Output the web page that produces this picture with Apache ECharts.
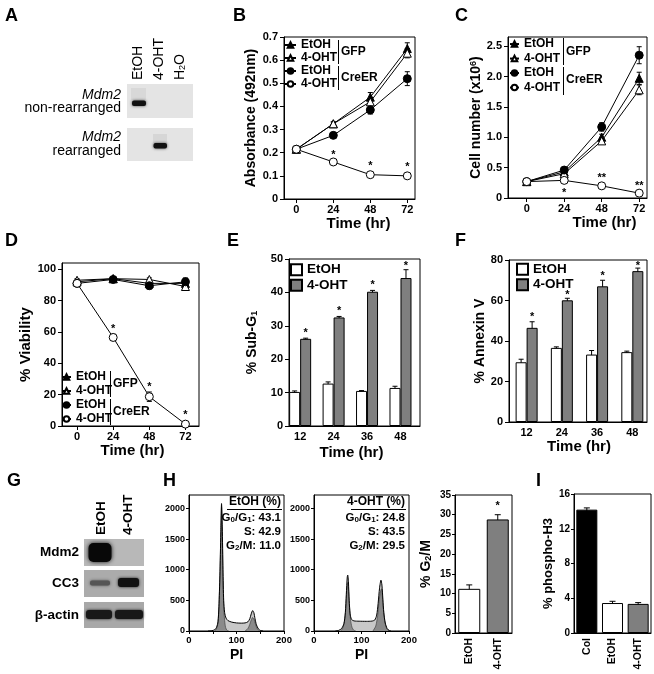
<!DOCTYPE html>
<html><head><meta charset="utf-8">
<script src="https://cdn.jsdelivr.net/npm/echarts@6/dist/echarts.min.js"></script>
<style>html,body{margin:0;padding:0;background:#fff}#c{width:654px;height:674px}</style>
</head><body><div id="c"></div>
<script>
const FONT = '"Liberation Sans", Arial, Helvetica, sans-serif';

// ================= DATA =================
const timeHr = [0, 24, 48, 72];
const timeTicks = [0, 24, 48, 72];

// B: Absorbance (492nm)
const bGfpEtOH    = [0.215, 0.325, 0.44, 0.65];
const bGfpEtOHErr = [0.005, 0.008, 0.02, 0.025];
const bGfpOHT     = [0.215, 0.325, 0.42, 0.63];
const bGfpOHTErr  = [0.005, 0.008, 0.015, 0.02];
const bCreEtOH    = [0.215, 0.275, 0.385, 0.52];
const bCreEtOHErr = [0.005, 0.008, 0.018, 0.03];
const bCreOHT     = [0.215, 0.16, 0.105, 0.1];
const bCreOHTErr  = [0.005, 0.006, 0.005, 0.005];
const bStarX = [24, 48, 72];
const bStarY = [0.204, 0.156, 0.153];
const bStarText = ['*', '*', '*'];
const bYTicks = [0, 0.1, 0.2, 0.3, 0.4, 0.5, 0.6, 0.7];

// C: Cell number (x10^6)
const cGfpEtOH    = [0.27, 0.43, 1.0, 1.97];
const cGfpEtOHErr = [0.02, 0.03, 0.05, 0.1];
const cGfpOHT     = [0.27, 0.40, 0.94, 1.78];
const cGfpOHTErr  = [0.02, 0.03, 0.04, 0.08];
const cCreEtOH    = [0.27, 0.46, 1.17, 2.35];
const cCreEtOHErr = [0.02, 0.03, 0.07, 0.14];
const cCreOHT     = [0.27, 0.29, 0.2, 0.08];
const cCreOHTErr  = [0.02, 0.04, 0.02, 0.02];
const cStarX = [24, 48, 72];
const cStarY = [0.13, 0.38, 0.25];
const cStarText = ['*', '**', '**'];
const cYTicks = [0, 0.5, 1.0, 1.5, 2.0, 2.5];

// D: % Viability
const dGfpEtOH    = [92, 94, 91, 91];
const dGfpEtOHErr = [1, 1, 1, 1.5];
const dGfpOHT     = [93, 94, 93.5, 89];
const dGfpOHTErr  = [1, 1, 1, 1];
const dCreEtOH    = [91, 93.5, 89.5, 92];
const dCreEtOHErr = [1, 1, 2, 2.5];
const dCreOHT     = [91, 56.5, 18.7, 1.2];
const dCreOHTErr  = [1, 2, 3, 0.5];
const dStarX = [24, 48, 72];
const dStarY = [64, 27, 9];
const dStarText = ['*', '*', '*'];
const dYTicks = [0, 20, 40, 60, 80, 100];

// E: % Sub-G1
const eTimes  = [12, 24, 36, 48];
const eEtOH   = [10.2, 12.7, 10.5, 11.4];
const eEtOHErr= [0.3, 0.5, 0.1, 0.5];
const eOHT    = [26.1, 32.5, 40.2, 44.3];
const eOHTErr = [0.2, 0.3, 0.4, 2.5];
const eStarY  = [28.7, 35.2, 43, 48.9];
const eYTicks = [0, 10, 20, 30, 40, 50];

// F: % Annexin V
const fTimes  = [12, 24, 36, 48];
const fEtOH   = [29.5, 36.6, 33.3, 34.5];
const fEtOHErr= [1.5, 0.5, 2, 0.5];
const fOHT    = [46.5, 60.1, 67, 74.5];
const fOHTErr = [3, 1, 3, 1.5];
const fStarY  = [53.2, 64, 73.4, 78.7];
const fYTicks = [0, 20, 40, 60, 80];

// H: PI histograms  [PI, count]
const hEtOHTotal = [[40,0],[48,5],[54,20],[58,60],[61,150],[63,400],[65,900],[67,1600],[68.5,2080],[70,1700],[71.5,1000],[73,500],[75,300],[78,210],[82,170],[90,145],[100,132],[110,128],[118,132],[124,150],[128,200],[131,280],[134,333],[136.5,300],[139,200],[142,100],[146,35],[150,10],[156,0]];
const hEtOHG1    = [[54,0],[58,40],[61,130],[63,380],[65,860],[67,1550],[68.5,2030],[70,1640],[71.5,940],[73,420],[75,170],[77,60],[80,10],[84,0]];
const hEtOHG2    = [[118,0],[124,40],[128,110],[131,180],[134,220],[137,190],[140,110],[143,45],[148,0]];
const hOHTTotal  = [[45,0],[52,10],[58,40],[63,120],[66,300],[68,600],[70,880],[71,913],[72.5,800],[74,500],[76,280],[79,190],[84,165],[95,160],[110,158],[122,162],[128,180],[132,260],[135,450],[138,700],[141,830],[143,750],[145,520],[147,300],[150,130],[154,40],[158,10],[162,0]];
const hOHTG1     = [[56,0],[60,40],[64,150],[67,380],[69,650],[71,790],[73,640],[75,380],[77,180],[80,60],[84,10],[88,0]];
const hOHTG2     = [[124,0],[130,80],[134,250],[137,480],[140,650],[142,690],[144,560],[146,360],[149,160],[153,40],[158,0]];
const histYTicks = [0, 500, 1000, 1500, 2000];
const histXLabels = [0, 100, 200];
const histXTicks = [0, 50, 100, 150, 200];

// H: % G2/M bars
const hCats = ['EtOH', '4-OHT'];
const hVals = [11.2, 28.8];
const hErr  = [1.0, 1.2];
const hStarY = [null, 32.9];

// I: % phospho-H3
const iCats = ['Col', 'EtOH', '4-OHT'];
const iVals = [14.2, 3.45, 3.35];
const iErr  = [0.2, 0.2, 0.15];

// ================= BUILD =================
const opt = {animation:false, backgroundColor:'#fff', textStyle:{fontFamily:FONT},
  grid:[], xAxis:[], yAxis:[], series:[], legend:[], graphic:{elements:[]}};
const G = opt.graphic.elements;
const BLACK = '#000', GRAY = '#7f7f7f';

const axLine = {show:true, onZero:false, lineStyle:{color:BLACK, width:1}};
function tick(vals, len){ const t={show:true, length:len||4, lineStyle:{color:BLACK, width:1}}; if(vals) t.customValues=vals; return t; }
function lab(size, vals, fmt, extra){ const l={color:BLACK, fontFamily:FONT, fontWeight:'bold', fontSize:size, margin:6}; if(vals) l.customValues=vals; if(fmt) l.formatter=fmt; return Object.assign(l, extra||{}); }
function nm(size, extra){ return Object.assign({color:BLACK, fontFamily:FONT, fontWeight:'bold', fontSize:size}, extra||{}); }
function shiftPad(s){ return s>=0 ? [0,0,0,2*s] : [0,-2*s,0,0]; }
const dec1 = v => v===0 ? '0' : v.toFixed(1);
const plain = v => String(v);

function addGrid(rect, xa, ya){
  const i = opt.grid.length;
  opt.grid.push(Object.assign({show:true, borderColor:BLACK, borderWidth:1, backgroundColor:'transparent'}, rect));
  opt.xAxis.push(Object.assign({gridIndex:i, splitLine:{show:false}, axisLine:axLine}, xa));
  opt.yAxis.push(Object.assign({gridIndex:i, splitLine:{show:false}, axisLine:axLine}, ya));
  return i;
}
function lineS(name, g, ys, symbol, filled){
  opt.series.push({type:'line', name, xAxisIndex:g, yAxisIndex:g, data: timeHr.map((t,i)=>[t, ys[i]]),
    symbol, symbolSize:8, showSymbol:true, lineStyle:{color:BLACK, width:1},
    itemStyle:{color: filled?BLACK:'#fff', borderColor:BLACK, borderWidth:1}, z:3, silent:true});
}
function errS(g, xs, ys, es, dx, cap){
  opt.series.push({type:'custom', xAxisIndex:g, yAxisIndex:g, silent:true, z:2,
    data: xs.map((x,i)=>[x, ys[i], es[i]]),
    renderItem(p, api){
      const x=api.value(0), y=api.value(1), e=api.value(2);
      const a=api.coord([x, y+e]), b=api.coord([x, y-e]);
      const cx=a[0]+dx, st={stroke:BLACK, lineWidth:1};
      return {type:'group', children:[
        {type:'line', shape:{x1:cx, y1:a[1], x2:cx, y2:b[1]}, style:st},
        {type:'line', shape:{x1:cx-cap, y1:a[1], x2:cx+cap, y2:a[1]}, style:st},
        {type:'line', shape:{x1:cx-cap, y1:b[1], x2:cx+cap, y2:b[1]}, style:st}]};
    }});
}
function starS(g, xs, ys, texts, dx, size){
  const d=[]; xs.forEach((x,i)=>{ if(ys[i]!=null) d.push([x, ys[i], i]); });
  opt.series.push({type:'custom', xAxisIndex:g, yAxisIndex:g, silent:true, z:4, data:d,
    renderItem(p, api){
      const c=api.coord([api.value(0), api.value(1)]);
      return {type:'text', x:c[0]+dx, y:c[1]+3, style:{text:texts[api.value(2)], align:'center', verticalAlign:'middle',
        textAlign:'center', textVerticalAlign:'middle', fontSize:size, fontFamily:FONT, fontWeight:'bold', fill:BLACK}};
    }});
}
function lineLegend(items, labels, left, top, iw, lh){
  opt.legend.push({show:true, orient:'vertical', left, top, padding:0, itemGap:0, itemWidth:iw, itemHeight:7,
    selectedMode:false, data:items, formatter:n=>labels[items.indexOf(n)],
    textStyle:{color:BLACK, fontFamily:FONT, fontWeight:'bold', fontSize:12, lineHeight:lh}});
}
function txt(x, y, text, o){
  o=o||{};
  const st={text, fill:BLACK, fontFamily:FONT, fontSize:o.size||12, fontWeight:o.weight||'bold', fontStyle:o.fstyle||'normal',
    align:o.align||'left', verticalAlign:o.va||'middle', textAlign:o.align||'left', textVerticalAlign:o.va||'middle'};
  if(o.rich) st.rich=o.rich;
  G.push({type:'text', x, y, rotation:o.rot||0, silent:true, z:20, style:st});
}
function rect(x, y, w, h, fill, o){
  o=o||{};
  G.push({type:'rect', silent:true, z:o.z||5, shape:{x, y, width:w, height:h, r:o.r||0},
    style:{fill, shadowBlur:o.blur||0, shadowColor:o.sc||'rgba(0,0,0,0)'}});
}
function vline(x, y1, y2){ G.push({type:'line', silent:true, z:20, shape:{x1:x, y1, x2:x, y2}, style:{stroke:BLACK, lineWidth:1}}); }
function hline(x1, x2, y){ G.push({type:'line', silent:true, z:20, shape:{x1, y1:y, x2, y2:y}, style:{stroke:BLACK, lineWidth:1}}); }

const timeName = (shift, gap, size) => ({name:'Time (hr)', nameLocation:'middle', nameGap:gap, nameTextStyle:nm(size||15, {padding:shiftPad(shift)})});

// ---------- Panel B ----------
{
  const g = addGrid({left:284, top:37, width:131, height:162},
    Object.assign({type:'value', min:-8, max:77, axisTick:tick(timeTicks), axisLabel:lab(11, timeTicks, null, {margin:5})}, timeName(9, 10)),
    {type:'value', min:0, max:0.7, axisTick:tick(bYTicks), axisLabel:lab(11, bYTicks, dec1),
     name:'Absorbance (492nm)', nameLocation:'middle', nameGap:26, nameTextStyle:nm(14)});
  errS(g, timeHr, bGfpEtOH, bGfpEtOHErr, 0, 2.5);
  errS(g, timeHr, bGfpOHT, bGfpOHTErr, 0, 2.5);
  errS(g, timeHr, bCreEtOH, bCreEtOHErr, 0, 2.5);
  errS(g, timeHr, bCreOHT, bCreOHTErr, 0, 2.5);
  lineS('B1', g, bGfpEtOH, 'triangle', true);
  lineS('B2', g, bGfpOHT, 'triangle', false);
  lineS('B3', g, bCreEtOH, 'circle', true);
  lineS('B4', g, bCreOHT, 'circle', false);
  starS(g, bStarX, bStarY, bStarText, 0, 11);
  lineLegend(['B1','B2','B3','B4'], ['EtOH','4-OHT','EtOH','4-OHT'], 284, 38.5, 11, 13);
  vline(338.5, 40, 64); txt(341, 52, 'GFP', {size:12});
  vline(338.5, 66, 90); txt(341, 78, 'CreER', {size:12});
}
// ---------- Panel C ----------
{
  const g = addGrid({left:508, top:37, width:139, height:161},
    Object.assign({type:'value', min:-12, max:77, axisTick:tick(timeTicks), axisLabel:lab(11, timeTicks, null, {margin:5})}, timeName(27, 14)),
    {type:'value', min:0, max:2.65, axisTick:tick(cYTicks), axisLabel:lab(11, cYTicks, dec1),
     name:'Cell number (x10{sup|6})', nameLocation:'middle', nameGap:18,
     nameTextStyle:nm(14, {rich:{sup:{fontSize:9, fontFamily:FONT, fontWeight:'bold', color:BLACK, verticalAlign:'top', lineHeight:14}}})});
  errS(g, timeHr, cGfpEtOH, cGfpEtOHErr, 0, 2.5);
  errS(g, timeHr, cGfpOHT, cGfpOHTErr, 0, 2.5);
  errS(g, timeHr, cCreEtOH, cCreEtOHErr, 0, 2.5);
  errS(g, timeHr, cCreOHT, cCreOHTErr, 0, 2.5);
  lineS('C1', g, cGfpEtOH, 'triangle', true);
  lineS('C2', g, cGfpOHT, 'triangle', false);
  lineS('C3', g, cCreEtOH, 'circle', true);
  lineS('C4', g, cCreOHT, 'circle', false);
  starS(g, cStarX, cStarY, cStarText, 0, 11);
  lineLegend(['C1','C2','C3','C4'], ['EtOH','4-OHT','EtOH','4-OHT'], 509, 36.8, 9, 14.5);
  vline(563.5, 38, 65); txt(566, 52, 'GFP', {size:12});
  vline(563.5, 67, 95); txt(566, 80, 'CreER', {size:12});
}
// ---------- Panel D ----------
{
  const g = addGrid({left:62, top:263, width:137, height:163},
    Object.assign({type:'value', min:-10, max:81, axisTick:tick(timeTicks), axisLabel:lab(11, timeTicks, null, {margin:5})}, timeName(2, 14)),
    {type:'value', min:0, max:104, axisTick:tick(dYTicks), axisLabel:lab(11, dYTicks),
     name:'% Viability', nameLocation:'middle', nameGap:27, nameTextStyle:nm(15)});
  errS(g, timeHr, dGfpEtOH, dGfpEtOHErr, 0, 2.5);
  errS(g, timeHr, dGfpOHT, dGfpOHTErr, 0, 2.5);
  errS(g, timeHr, dCreEtOH, dCreEtOHErr, 0, 2.5);
  errS(g, timeHr, dCreOHT, dCreOHTErr, 0, 2.5);
  lineS('D1', g, dGfpEtOH, 'triangle', true);
  lineS('D2', g, dGfpOHT, 'triangle', false);
  lineS('D3', g, dCreEtOH, 'circle', true);
  lineS('D4', g, dCreOHT, 'circle', false);
  starS(g, dStarX, dStarY, dStarText, 0, 11);
  lineLegend(['D1','D2','D3','D4'], ['EtOH','4-OHT','EtOH','4-OHT'], 61, 370, 9, 14);
  vline(110.5, 371, 397); txt(113, 384, 'GFP', {size:12});
  vline(110.5, 399, 425); txt(113, 412, 'CreER', {size:12});
}
// ---------- Panel E / F (bars) ----------
function barPanel(rect, xmin, xmax, times, a, aErr, b, bErr, starY, ymax, yTicks, yName, yGap, legendPos, tShift, tGap, nameRich, names){
  const g = addGrid(rect,
    Object.assign({type:'value', min:xmin, max:xmax, axisTick:{show:false}, axisLabel:lab(11, times, null, {margin:5})}, timeName(tShift, tGap)),
    {type:'value', min:0, max:ymax, axisTick:tick(yTicks), axisLabel:lab(11, yTicks),
     name:yName, nameLocation:'middle', nameGap:yGap, nameTextStyle:nm(14, nameRich?{rich:nameRich}:{})});
  const bw = 11;
  opt.series.push({type:'bar', name:names[0], xAxisIndex:g, yAxisIndex:g, barWidth:bw, barGap:'0%', silent:true,
    data: times.map((t,i)=>[t, a[i]]), itemStyle:{color:'#fff', borderColor:BLACK, borderWidth:1}, z:2});
  opt.series.push({type:'bar', name:names[1], xAxisIndex:g, yAxisIndex:g, barWidth:bw, barGap:'0%', silent:true,
    data: times.map((t,i)=>[t, b[i]]), itemStyle:{color:GRAY, borderColor:BLACK, borderWidth:1}, z:2});
  errS(g, times, a, aErr, -bw/2, 2.5);
  errS(g, times, b, bErr, bw/2, 2.5);
  starS(g, times, starY, times.map(()=> '*'), bw/2, 11);
  opt.legend.push({show:true, orient:'vertical', left:legendPos[0], top:legendPos[1], padding:0, itemGap:0,
    itemWidth:11, itemHeight:11, icon:'rect', selectedMode:false, data:names, formatter:n=>(n.slice(1)==='1'?'EtOH':'4-OHT'),
    textStyle:{color:BLACK, fontFamily:FONT, fontWeight:'bold', fontSize:13.5, lineHeight:15.5}});
}
barPanel({left:289, top:259, width:131, height:167}, 8, 55, eTimes, eEtOH, eEtOHErr, eOHT, eOHTErr, eStarY, 50, eYTicks,
  '% Sub-G{sub|1}', 30, [290, 262], -3, 19,
  {sub:{fontSize:9, fontFamily:FONT, fontWeight:'bold', color:BLACK, verticalAlign:'bottom', lineHeight:14}}, ['E1','E2']);
barPanel({left:509, top:260, width:138, height:162}, 6, 53, fTimes, fEtOH, fEtOHErr, fOHT, fOHTErr, fStarY, 80, fYTicks,
  '% Annexin V', 22, [516, 261.5], 1, 14, null, ['F1','F2']);

// ---------- Panel H histograms ----------
function histPanel(left, total, g1, g2){
  const g = addGrid({left, top:495, width:95, height:136},
    {type:'value', min:0, max:200, axisTick:tick(histXTicks, 3), axisLabel:lab(9.5, histXLabels, plain, {margin:4}),
     name:'PI', nameLocation:'middle', nameGap:17, nameTextStyle:nm(14)},
    {type:'value', min:0, max:2220, axisTick:tick(histYTicks, 3), axisLabel:lab(9, histYTicks, plain, {margin:4})});
  const base = {type:'line', xAxisIndex:g, yAxisIndex:g, symbol:'none', smooth:0.25, silent:true};
  opt.series.push(Object.assign({}, base, {data:total, lineStyle:{width:0}, areaStyle:{color:'#c8c8c8', opacity:1}, z:1}));
  opt.series.push(Object.assign({}, base, {data:g1, lineStyle:{color:'#444', width:0.7}, areaStyle:{color:'#8a8a8a', opacity:1}, z:2}));
  opt.series.push(Object.assign({}, base, {data:g2, lineStyle:{color:'#444', width:0.7}, areaStyle:{color:'#8a8a8a', opacity:1}, z:2}));
  opt.series.push(Object.assign({}, base, {data:total, lineStyle:{color:BLACK, width:1}, z:3}));
  return g;
}
histPanel(189, hEtOHTotal, hEtOHG1, hEtOHG2);
histPanel(314, hOHTTotal, hOHTG1, hOHTG2);
const subRich = {s:{fontSize:8, fontFamily:FONT, fontWeight:'bold', fill:BLACK, verticalAlign:'bottom', padding:[4,0,0,0]}};
function histNote(right, title, g01, s, g2m){
  txt(right, 502, title, {size:12, align:'right'});
  hline(right-54, right+1, 509.5);
  txt(right, 517.5, 'G{s|0}/G{s|1}: ' + g01, {size:11.5, align:'right', rich:subRich});
  txt(right, 531.5, 'S: ' + s, {size:11.5, align:'right'});
  txt(right, 545.5, 'G{s|2}/M: ' + g2m, {size:11.5, align:'right', rich:subRich});
}
histNote(281, 'EtOH (%)', '43.1', '42.9', '11.0');
histNote(405, '4-OHT (%)', '24.8', '43.5', '29.5');

// ---------- Panel H bars (% G2/M) ----------
{
  const g = addGrid({left:455, top:495, width:57, height:138},
    {type:'category', data:hCats, axisTick:{show:false}, axisLabel:lab(10.5, null, null, {rotate:90, margin:5})},
    {type:'value', min:0, max:35, interval:5, axisTick:tick(null, 3), axisLabel:lab(10, null, null, {margin:4}),
     name:'% G{sub|2}/M', nameLocation:'middle', nameGap:22,
     nameTextStyle:nm(14, {rich:{sub:{fontSize:9, fontFamily:FONT, fontWeight:'bold', color:BLACK, verticalAlign:'bottom', lineHeight:14}}})});
  opt.series.push({type:'bar', xAxisIndex:g, yAxisIndex:g, barWidth:22, silent:true, z:2,
    data: hVals.map((v,i)=>({value:v, itemStyle:{color:i===0?'#fff':GRAY, borderColor:BLACK, borderWidth:1}}))});
  errS(g, hCats.map((c,i)=>i), hVals, hErr, 0, 3);
  starS(g, hCats.map((c,i)=>i), hStarY, ['*','*'], 0, 11);
}
// ---------- Panel I ----------
{
  const g = addGrid({left:574, top:494, width:77, height:139},
    {type:'category', data:iCats, axisTick:{show:false}, axisLabel:lab(10.5, null, null, {rotate:90, margin:5})},
    {type:'value', min:0, max:16, interval:4, axisTick:tick(null, 3), axisLabel:lab(10, null, null, {margin:4}),
     name:'% phospho-H3', nameLocation:'middle', nameGap:12, nameTextStyle:nm(13)});
  const cols = ['#000', '#fff', GRAY];
  opt.series.push({type:'bar', xAxisIndex:g, yAxisIndex:g, barWidth:21, silent:true, z:2,
    data: iVals.map((v,i)=>({value:v, itemStyle:{color:cols[i], borderColor:BLACK, borderWidth:1}}))});
  errS(g, iCats.map((c,i)=>i), iVals, iErr, 0, 3);
}

// ---------- Panel A (PCR gel) ----------
rect(127, 84, 66, 34, '#e4e4e4');
rect(127, 128, 66, 33, '#e4e4e4');
rect(131, 88, 15, 12, 'rgba(0,0,0,0.05)', {z:6});
rect(132, 100.5, 14, 5.5, '#111', {r:2, blur:3, sc:'rgba(0,0,0,0.7)', z:7});
rect(153, 134, 14, 9, 'rgba(0,0,0,0.06)', {z:6});
rect(153.5, 143, 13.5, 5.5, '#111', {r:2, blur:3, sc:'rgba(0,0,0,0.7)', z:7});
txt(138, 80, 'EtOH', {size:14, weight:'normal', rot:Math.PI/2});
txt(159, 80, '4-OHT', {size:14, weight:'normal', rot:Math.PI/2});
txt(180, 80, 'H{s|2}O', {size:14, weight:'normal', rot:Math.PI/2,
  rich:{s:{fontSize:9, fontFamily:FONT, fill:BLACK, verticalAlign:'bottom', padding:[5,0,0,0]}}});
txt(121, 95, 'Mdm2', {size:14, weight:'normal', fstyle:'italic', align:'right'});
txt(121, 108.5, 'non-rearranged', {size:14, weight:'normal', align:'right'});
txt(121, 137.5, 'Mdm2', {size:14, weight:'normal', fstyle:'italic', align:'right'});
txt(121, 151, 'rearranged', {size:14, weight:'normal', align:'right'});

// ---------- Panel G (western blot) ----------
rect(84, 539, 60, 27, '#b8b8b8');
rect(84, 570, 60, 27, '#ababab');
rect(84, 602, 60, 26, '#a8a8a8');
rect(88.5, 543, 23, 19, '#080808', {r:5, blur:4, sc:'rgba(0,0,0,0.9)', z:7});
rect(90, 580.5, 20, 5, '#555', {r:2, blur:3, sc:'rgba(60,60,60,0.8)', z:7});
rect(118, 578, 21, 9, '#111', {r:3, blur:3, sc:'rgba(0,0,0,0.85)', z:7});
rect(86, 610, 26, 9, '#181818', {r:3, blur:3, sc:'rgba(0,0,0,0.85)', z:7});
rect(115, 610, 28, 9, '#181818', {r:3, blur:3, sc:'rgba(0,0,0,0.85)', z:7});
txt(101, 535, 'EtOH', {size:13.5, rot:Math.PI/2});
txt(128, 535, '4-OHT', {size:13.5, rot:Math.PI/2});
txt(79, 552, 'Mdm2', {size:13.5, align:'right'});
txt(79, 583.5, 'CC3', {size:13.5, align:'right'});
txt(79, 615, 'β-actin', {size:13.5, align:'right'});

// ---------- Panel letters ----------
[['A',5,16],['B',233,16],['C',455,16],['D',5,241],['E',227,241],['F',455,241],['G',7,481],['H',163,481],['I',536,481]]
  .forEach(([t,x,y])=>txt(x, y, t, {size:18}));

const chart = echarts.init(document.getElementById('c'), null, {renderer:'canvas'});
chart.setOption(opt);
</script>
</body></html>
